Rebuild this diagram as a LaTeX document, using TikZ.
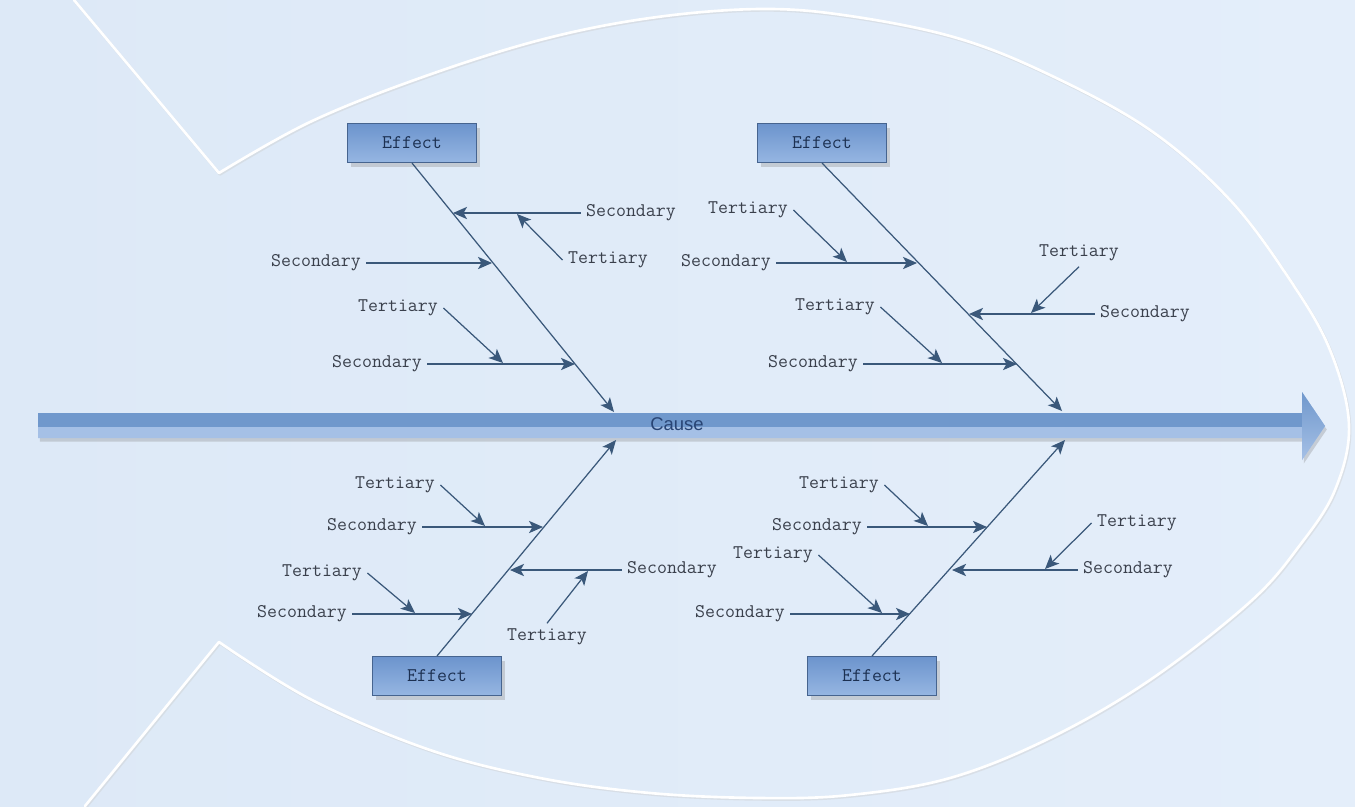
\documentclass[tikz,border=0pt]{standalone}
\usepackage{fontspec}
\setmainfont{Liberation Sans}
\usetikzlibrary{arrows.meta,shadows}
\definecolor{bgblue}{RGB}{228,238,250}
\definecolor{bgleft}{RGB}{221,233,247}
\definecolor{bonecol}{RGB}{58,88,122}
\definecolor{txtgray}{RGB}{58,64,76}
\definecolor{spinetop}{RGB}{112,152,204}
\definecolor{spinebot}{RGB}{165,192,230}
\definecolor{efftop}{RGB}{108,148,205}
\definecolor{effbot}{RGB}{150,182,226}
\definecolor{effline}{RGB}{70,100,143}
\definecolor{causetxt}{RGB}{40,68,116}
\begin{document}
\begin{tikzpicture}[x=0.02cm,y=-0.02cm,
  lbltext/.style={font=\ttfamily\fontsize{11}{13}\selectfont,text=txtgray,inner sep=3pt},
  effbox/.style={lbltext,text=causetxt!70!black,draw=effline,line width=0.6pt,
    top color=efftop,bottom color=effbot,minimum width=2.58cm,minimum height=0.78cm,
    drop shadow={shadow xshift=2pt,shadow yshift=-2.5pt,opacity=0.3}},
  bonearr/.style={draw=bonecol,line width=0.7pt,-{Stealth[length=8pt,width=7pt,inset=2pt]}},
  fishline/.style={line width=1.5pt,line join=round,line cap=round}]
\useasboundingbox (0,0) rectangle (1355,806);
\shade[left color=bgleft,right color=bgblue] (0,0) rectangle (1355,806);

% fish outline
\draw[fishline,gray!40,opacity=0.4,xshift=0.6pt,yshift=-0.8pt] (74,0) -- (219,173) -- plot[smooth,tension=0.6] coordinates {(219,173) (310,122) (420,78) (540,40) (650,18) (760,9) (850,16) (957,38) (1050,75) (1150,130) (1230,200) (1290,280) (1330,350) (1349,425) (1335,490) (1300,545) (1250,602) (1150,680) (1050,738) (950,778) (850,795) (760,798) (650,793) (540,778) (430,750) (312,700) (219,642)} -- (85,806);
\draw[fishline,white] (74,0) -- (219,173) -- plot[smooth,tension=0.6] coordinates {(219,173) (310,122) (420,78) (540,40) (650,18) (760,9) (850,16) (957,38) (1050,75) (1150,130) (1230,200) (1290,280) (1330,350) (1349,425) (1335,490) (1300,545) (1250,602) (1150,680) (1050,738) (950,778) (850,795) (760,798) (650,793) (540,778) (430,750) (312,700) (219,642)} -- (85,806);

% spine
\fill[spinebot,drop shadow={shadow xshift=1pt,shadow yshift=-2pt,opacity=0.3}] (38,413) -- (1302,413) -- (1302,392) -- (1325,426) -- (1302,460) -- (1302,438) -- (38,438) -- cycle;
\fill[spinetop] (38,413) rectangle (1302,427);
\shade[top color=spinetop,bottom color=spinebot] (1302,392) -- (1325,426) -- (1302,460) -- cycle;
\node[font=\fontsize{10.5}{12}\selectfont,text=causetxt] (cause) at (677,424) {Cause};
\coordinate (ulhead) at (614,412);
\coordinate (urhead) at (1062,411);
\coordinate (llhead) at (616,440);
\coordinate (lrhead) at (1065,440);

% upper left
\node[effbox] (ul) at (412,143) {Effect};
\draw[bonearr] (ul.south) -- (ulhead);
\node[lbltext] (ula) at (631,213) {Secondary};
\node[lbltext] (ulta) at (608,260) {Tertiary};
\node[lbltext] (ulb) at (316,263) {Secondary};
\node[lbltext] (ultc) at (398,308) {Tertiary};
\node[lbltext] (ulc) at (377,364) {Secondary};
\coordinate (ula-e) at (453,213);
\coordinate (ulta-e) at (517,214);
\coordinate (ulb-e) at (492,263);
\coordinate (ultc-e) at (503,363);
\coordinate (ulc-e) at (575,364);
\draw[bonearr] (ula.west) -- (ula-e);
\draw[bonearr] (ulta.west) -- (ulta-e);
\draw[bonearr] (ulb.east) -- (ulb-e);
\draw[bonearr] (ultc.east) -- (ultc-e);
\draw[bonearr] (ulc.east) -- (ulc-e);

% upper right
\node[effbox] (ur) at (822,143) {Effect};
\draw[bonearr] (ur.south) -- (urhead);
\node[lbltext] (urta) at (748,210) {Tertiary};
\node[lbltext] (ura) at (726,263) {Secondary};
\node[lbltext] (urtb) at (1079,253) {Tertiary};
\node[lbltext] (urb) at (1145,314) {Secondary};
\node[lbltext] (urtc) at (835,307) {Tertiary};
\node[lbltext] (urc) at (813,364) {Secondary};
\coordinate (urta-e) at (847,262);
\coordinate (ura-e) at (917,263);
\coordinate (urtb-e) at (1031,313);
\coordinate (urb-e) at (969,314);
\coordinate (urtc-e) at (942,363);
\coordinate (urc-e) at (1017,364);
\draw[bonearr] (urta.east) -- (urta-e);
\draw[bonearr] (ura.east) -- (ura-e);
\draw[bonearr] (urtb.south) -- (urtb-e);
\draw[bonearr] (urb.west) -- (urb-e);
\draw[bonearr] (urtc.east) -- (urtc-e);
\draw[bonearr] (urc.east) -- (urc-e);

% lower left
\node[effbox] (ll) at (437,676) {Effect};
\draw[bonearr] (ll.north) -- (llhead);
\node[lbltext] (llta) at (395,485) {Tertiary};
\node[lbltext] (lla) at (372,527) {Secondary};
\node[lbltext] (llb) at (672,570) {Secondary};
\node[lbltext] (lltb) at (547,637) {Tertiary};
\node[lbltext] (lltc) at (322,573) {Tertiary};
\node[lbltext] (llc) at (302,614) {Secondary};
\coordinate (llta-e) at (485,526);
\coordinate (lla-e) at (543,527);
\coordinate (llb-e) at (510,570);
\coordinate (lltb-e) at (588,571);
\coordinate (lltc-e) at (415,613);
\coordinate (llc-e) at (472,614);
\draw[bonearr] (llta.east) -- (llta-e);
\draw[bonearr] (lla.east) -- (lla-e);
\draw[bonearr] (llb.west) -- (llb-e);
\draw[bonearr] (lltb.north) -- (lltb-e);
\draw[bonearr] (lltc.east) -- (lltc-e);
\draw[bonearr] (llc.east) -- (llc-e);

% lower right
\node[effbox] (lr) at (872,676) {Effect};
\draw[bonearr] (lr.north) -- (lrhead);
\node[lbltext] (lrta) at (839,485) {Tertiary};
\node[lbltext] (lra) at (817,527) {Secondary};
\node[lbltext] (lrtb) at (1137,523) {Tertiary};
\node[lbltext] (lrb) at (1128,570) {Secondary};
\node[lbltext] (lrtc) at (773,555) {Tertiary};
\node[lbltext] (lrc) at (740,614) {Secondary};
\coordinate (lrta-e) at (928,526);
\coordinate (lra-e) at (987,527);
\coordinate (lrtb-e) at (1045,569);
\coordinate (lrb-e) at (952,570);
\coordinate (lrtc-e) at (882,613);
\coordinate (lrc-e) at (910,614);
\draw[bonearr] (lrta.east) -- (lrta-e);
\draw[bonearr] (lra.east) -- (lra-e);
\draw[bonearr] (lrtb.west) -- (lrtb-e);
\draw[bonearr] (lrb.west) -- (lrb-e);
\draw[bonearr] (lrtc.east) -- (lrtc-e);
\draw[bonearr] (lrc.east) -- (lrc-e);
\end{tikzpicture}
\end{document}
